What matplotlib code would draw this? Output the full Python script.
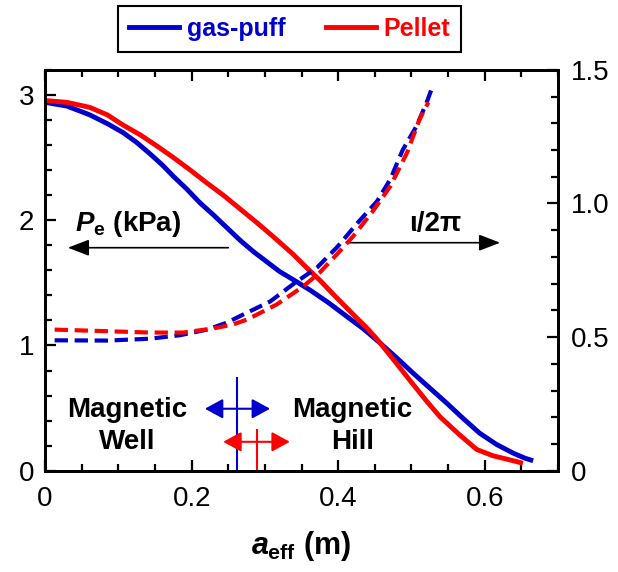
import matplotlib.pyplot as plt
from matplotlib.ticker import MultipleLocator, FixedLocator, FixedFormatter
from matplotlib.lines import Line2D

plt.rcParams['font.family'] = ['Liberation Sans', 'DejaVu Sans']
plt.rcParams['mathtext.fontset'] = 'custom'
plt.rcParams['mathtext.rm'] = 'Liberation Sans:bold'
plt.rcParams['mathtext.it'] = 'Liberation Sans:italic:bold'
plt.rcParams['mathtext.bf'] = 'Liberation Sans:bold'

BLUE = '#0000cc'
RED = '#ff0000'

# electron pressure profiles (kPa)
a_pe_gas = [0, 0.03, 0.061, 0.085, 0.106, 0.125, 0.143, 0.16, 0.175, 0.193, 0.211,
            0.23, 0.248, 0.266, 0.284, 0.302, 0.32, 0.34, 0.362, 0.387, 0.412,
            0.435, 0.457, 0.48, 0.502, 0.525, 0.548, 0.57, 0.593, 0.616, 0.639,
            0.655, 0.666]
pe_gas = [2.94, 2.91, 2.84, 2.77, 2.70, 2.62, 2.53, 2.44, 2.35, 2.25, 2.14,
          2.04, 1.94, 1.84, 1.75, 1.67, 1.59, 1.52, 1.44, 1.34, 1.23,
          1.13, 1.02, 0.90, 0.78, 0.66, 0.54, 0.42, 0.30, 0.21, 0.14,
          0.10, 0.08]

a_pe_pel = [0, 0.03, 0.061, 0.085, 0.106, 0.13, 0.153, 0.175, 0.198, 0.22, 0.243,
            0.266, 0.289, 0.311, 0.338, 0.357, 0.375, 0.393, 0.42, 0.439, 0.453,
            0.475, 0.498, 0.52, 0.539, 0.565, 0.589, 0.611, 0.632, 0.652]
pe_pel = [2.955, 2.94, 2.90, 2.84, 2.76, 2.68, 2.59, 2.50, 2.40, 2.30, 2.20,
          2.09, 1.98, 1.87, 1.73, 1.62, 1.52, 1.41, 1.25, 1.14, 1.05,
          0.89, 0.72, 0.56, 0.43, 0.29, 0.17, 0.12, 0.09, 0.06]

# rotational transform profiles
a_iota_gas = [0.013, 0.085, 0.143, 0.184, 0.221, 0.248, 0.27, 0.307, 0.338, 0.371,
              0.398, 0.427, 0.453, 0.471, 0.488, 0.507, 0.521, 0.529]
iota_gas = [0.488, 0.487, 0.494, 0.507, 0.528, 0.554, 0.584, 0.633, 0.697, 0.760,
            0.835, 0.929, 1.008, 1.09, 1.20, 1.29, 1.38, 1.44]

a_iota_pel = [0.013, 0.085, 0.143, 0.188, 0.229, 0.256, 0.276, 0.316, 0.352, 0.375,
              0.398, 0.420, 0.447, 0.471, 0.494, 0.511, 0.523]
iota_pel = [0.528, 0.522, 0.517, 0.517, 0.532, 0.547, 0.566, 0.622, 0.689, 0.742,
            0.809, 0.876, 0.970, 1.064, 1.19, 1.315, 1.378]

# magnetic well / hill boundary
edge_gas = 0.262
edge_pel = 0.289

fig = plt.figure(figsize=(6.18, 5.72), dpi=100)
ax = fig.add_axes([0.073, 0.177, 0.830, 0.701])
ax2 = ax.twinx()

lw = 3.5
ax.plot(a_pe_gas, pe_gas, color=BLUE, lw=lw, solid_capstyle='butt')
ax.plot(a_pe_pel, pe_pel, color=RED, lw=lw, solid_capstyle='butt')
ax2.plot(a_iota_gas, iota_gas, color=BLUE, lw=3, dashes=(3.2, 1.6))
ax2.plot(a_iota_pel, iota_pel, color=RED, lw=3, dashes=(3.2, 1.6))

ax.set_xlim(0, 0.7)
ax.set_ylim(0, 3.2)
ax2.set_ylim(0, 1.5)

ax.xaxis.set_major_locator(FixedLocator([0, 0.2, 0.4, 0.6]))
ax.xaxis.set_major_formatter(FixedFormatter(['0', '0.2', '0.4', '0.6']))
ax.xaxis.set_minor_locator(MultipleLocator(0.05))
ax.yaxis.set_major_locator(FixedLocator([0, 1, 2, 3]))
ax.yaxis.set_major_formatter(FixedFormatter(['0', '1', '2', '3']))
ax.yaxis.set_minor_locator(MultipleLocator(0.2))
ax2.yaxis.set_major_locator(FixedLocator([0, 0.5, 1.0, 1.5]))
ax2.yaxis.set_major_formatter(FixedFormatter(['0', '0.5', '1.0', '1.5']))
ax2.yaxis.set_minor_locator(MultipleLocator(0.1))

ax.tick_params(axis='x', which='both', direction='in', top=True, labelsize=20, pad=11)
ax.tick_params(axis='y', which='both', direction='in', labelsize=20, pad=8)
ax2.tick_params(axis='y', which='both', direction='in', labelsize=20, pad=9)
for a in (ax, ax2):
    a.tick_params(which='major', length=8, width=1.6)
    a.tick_params(which='minor', length=5, width=1.6)
    for s in a.spines.values():
        s.set_linewidth(2)

ax.set_xlabel(r'$a_{\rm eff}$ (m)', fontsize=22, fontweight='bold', labelpad=12)

# labels and arrows
arr_k = dict(arrowstyle='-|>,head_length=0.65,head_width=0.25', mutation_scale=20,
             lw=1.2, color='k', shrinkA=0, shrinkB=0)
ax.annotate('', xy=(0.031, 1.78), xytext=(0.25, 1.78), arrowprops=arr_k)
ax.annotate('', xy=(0.621, 1.82), xytext=(0.412, 1.82), arrowprops=arr_k)
ax.text(0.041, 1.91, r'$P_{\rm e}$ (kPa)', fontsize=20, fontweight='bold',
        ha='left', va='baseline')
ax.text(0.532, 1.91, 'ι/2π', fontsize=20, fontweight='bold', ha='center', va='baseline')

ax.text(0.112, 0.36, 'Magnetic\nWell', fontsize=20, fontweight='bold',
        ha='center', va='center', linespacing=1.3)
ax.text(0.419, 0.36, 'Magnetic\nHill', fontsize=20, fontweight='bold',
        ha='center', va='center', linespacing=1.3)

ax.vlines(edge_gas, 0, 0.75, color=BLUE, lw=1.5)
ax.vlines(edge_pel, 0, 0.335, color=RED, lw=1.5)
arr_b = dict(arrowstyle='<|-|>,head_length=0.55,head_width=0.3', mutation_scale=20,
             lw=1.5, color=BLUE, shrinkA=0, shrinkB=0)
arr_r = dict(arr_b, color=RED)
ax.annotate('', xy=(0.218, 0.495), xytext=(0.307, 0.495), arrowprops=arr_b)
ax.annotate('', xy=(0.243, 0.231), xytext=(0.334, 0.231), arrowprops=arr_r)

handles = [Line2D([], [], color=BLUE, lw=lw), Line2D([], [], color=RED, lw=lw)]
leg = fig.legend(handles, ['gas-puff', 'Pellet'], loc='center',
                 bbox_to_anchor=(0.4685, 0.949), ncol=2, fancybox=False,
                 edgecolor='k', framealpha=1, labelcolor=[BLUE, RED],
                 prop={'weight': 'bold', 'size': 18}, handlelength=2.0,
                 handletextpad=0.3, columnspacing=1.6, borderpad=0.45)
leg.get_frame().set_linewidth(1.5)

fig.savefig('out.png', dpi=100)
